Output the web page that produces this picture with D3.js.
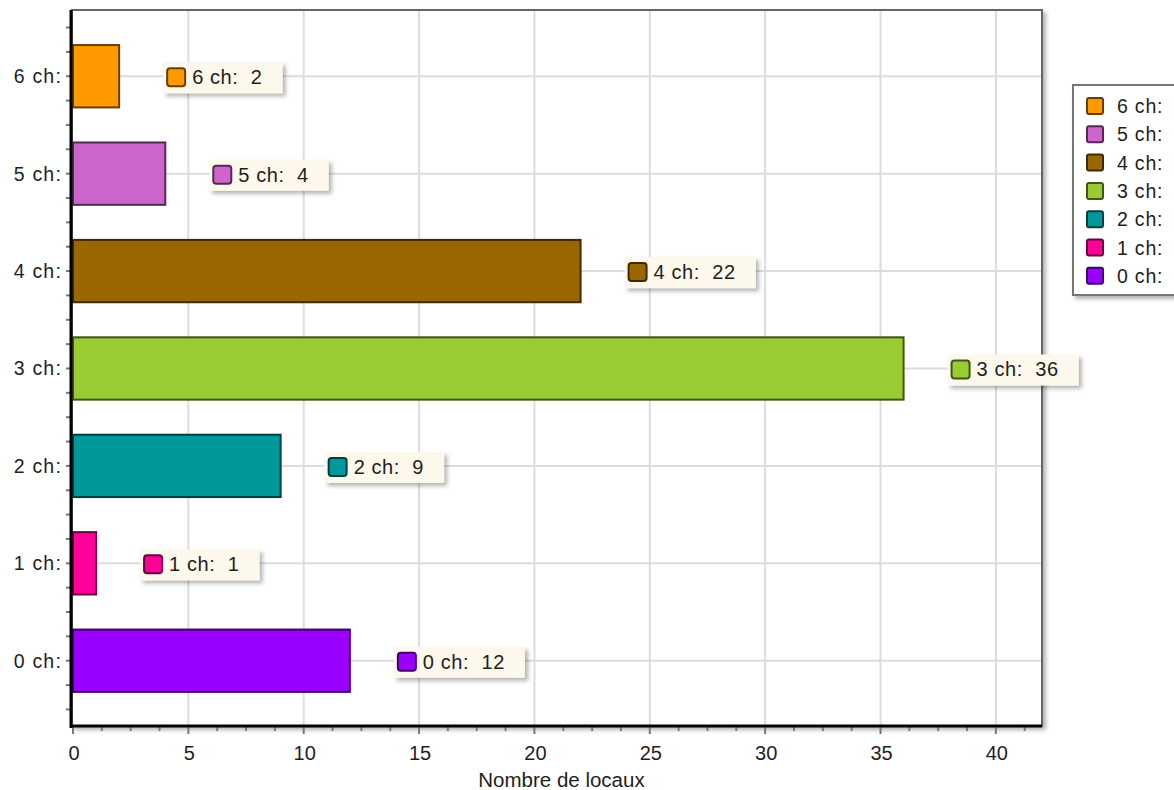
<!DOCTYPE html>
<html>
<head>
<meta charset="utf-8">
<script src="https://cdn.jsdelivr.net/npm/d3@7"></script>
<style>
body{margin:0;background:#fff;}
text{font-family:"Liberation Sans",Arial,sans-serif;fill:#1e1e1e;}
</style>
</head>
<body>
<script>
var w=1174;
var h=790;

// data
var categories=["0 ch:","1 ch:","2 ch:","3 ch:","4 ch:","5 ch:","6 ch:"];
var values=[12,1,9,36,22,4,2];
var colors=["#9900ff","#ff0099","#009999","#99cc33","#996600","#cc66cc","#ff9900"];
var xTicks=[0,5,10,15,20,25,30,35,40];
var xTitle="Nombre de locaux";

// plot box (note: "top" is reserved on window)
var pLeft=73, pRight=1042, pTop=10, pBottom=726;

var svg=d3.select("body").append("svg")
	.attr("width",w)
	.attr("height",h);

var defs=svg.append("defs");
var f=defs.append("filter").attr("id","shadow")
	.attr("x","-10%").attr("y","-20%").attr("width","130%").attr("height","160%");
f.append("feDropShadow").attr("dx",3).attr("dy",3).attr("stdDeviation",2)
	.attr("flood-color","#000").attr("flood-opacity",0.3);

var x=d3.scaleLinear().domain([0,42]).range([pLeft,pRight]);
var y=d3.scaleLinear().domain([-0.67,6.68]).range([pBottom,pTop]);

// frame (top/right) with shadow
svg.append("rect")
	.attr("x",pLeft-1).attr("y",pTop)
	.attr("width",pRight-pLeft+1).attr("height",pBottom-pTop)
	.attr("fill","#fff").attr("stroke","#666").attr("stroke-width",2)
	.attr("filter","url(#shadow)");

// grid
svg.append("g").selectAll("line")
	.data(xTicks.filter(function(d){return d>0;}))
	.enter().append("line")
	.attr("x1",function(d){return x(d);}).attr("x2",function(d){return x(d);})
	.attr("y1",pTop+1).attr("y2",pBottom)
	.attr("stroke","#dcdcdc").attr("stroke-width",2);

svg.append("g").selectAll("line")
	.data(d3.range(categories.length))
	.enter().append("line")
	.attr("x1",pLeft).attr("x2",pRight-1)
	.attr("y1",function(d){return y(d);}).attr("y2",function(d){return y(d);})
	.attr("stroke","#dcdcdc").attr("stroke-width",2);

// bars
var bh=0.32;
svg.append("g").selectAll("rect")
	.data(values)
	.enter().append("rect")
	.attr("x",x(0))
	.attr("y",function(d,i){return y(i+bh);})
	.attr("width",function(d){return x(d)-x(0);})
	.attr("height",function(d,i){return y(i-bh)-y(i+bh);})
	.attr("fill",function(d,i){return colors[i];})
	.attr("stroke",function(d,i){return d3.color(colors[i]).darker(2.5);})
	.attr("stroke-width",2);

// axes
var minorX=d3.range(0,42.01,1.25);
svg.append("g").selectAll("line")
	.data(minorX)
	.enter().append("line")
	.attr("x1",function(d){return x(d);}).attr("x2",function(d){return x(d);})
	.attr("y1",pBottom).attr("y2",function(d){return d%5==0?pBottom+8:pBottom+5;})
	.attr("stroke","#777").attr("stroke-width",2);

var minorY=d3.range(-0.5,6.51,0.25);
svg.append("g").selectAll("line")
	.data(minorY)
	.enter().append("line")
	.attr("y1",function(d){return y(d);}).attr("y2",function(d){return y(d);})
	.attr("x1",pLeft-2).attr("x2",pLeft-7)
	.attr("stroke","#777").attr("stroke-width",2);

svg.append("line").attr("x1",pLeft-2).attr("x2",pLeft-2)
	.attr("y1",pTop).attr("y2",pBottom+2)
	.attr("stroke","#000").attr("stroke-width",3);
svg.append("line").attr("x1",pLeft-3).attr("x2",pRight)
	.attr("y1",pBottom).attr("y2",pBottom)
	.attr("stroke","#000").attr("stroke-width",3);

svg.append("g").selectAll("text")
	.data(xTicks)
	.enter().append("text")
	.attr("x",function(d){return x(d)+1;})
	.attr("y",pBottom+34)
	.attr("text-anchor","middle")
	.attr("font-size",20)
	.text(function(d){return d;});

svg.append("g").selectAll("text")
	.data(categories)
	.enter().append("text")
	.attr("x",pLeft-11)
	.attr("y",function(d,i){return y(i)+7;})
	.attr("text-anchor","end")
	.attr("font-size",19.5)
	.attr("letter-spacing",1.2)
	.text(function(d){return d;});

svg.append("text")
	.attr("x",(pLeft+pRight)/2+4)
	.attr("y",pBottom+61)
	.attr("text-anchor","middle")
	.attr("font-size",20.5)
	.text(xTitle);

// data labels
var lab=svg.append("g").selectAll("g")
	.data(values)
	.enter().append("g")
	.attr("transform",function(d,i){return "translate("+(x(d)+44)+","+(y(i)-14)+")";});

var labBg=lab.append("rect")
	.attr("x",0).attr("y",0).attr("height",31)
	.attr("fill","#fdf8ec")
	.attr("filter","url(#shadow)");

lab.append("rect")
	.attr("x",4).attr("y",6).attr("width",18).attr("height",18)
	.attr("rx",3)
	.attr("fill",function(d,i){return colors[i];})
	.attr("stroke",function(d,i){return d3.color(colors[i]).darker(2.5);})
	.attr("stroke-width",2);

var labText=lab.append("text")
	.attr("x",29).attr("y",22)
	.attr("font-size",20)
	.attr("letter-spacing",0.6)
	.attr("xml:space","preserve")
	.style("white-space","pre")
	.text(function(d,i){return categories[i]+"  "+d;});

labText.each(function(d,i){
	var len=this.getComputedTextLength();
	d3.select(labBg.nodes()[i]).attr("width",29+len+20);
});

// legend
var lg=svg.append("g");
lg.append("rect")
	.attr("x",1073).attr("y",85).attr("width",130).attr("height",210)
	.attr("fill","#fff").attr("stroke","#777").attr("stroke-width",2)
	.attr("filter","url(#shadow)");

var order=d3.range(categories.length).reverse();
var item=lg.selectAll("g")
	.data(order)
	.enter().append("g")
	.attr("transform",function(d,k){return "translate(1087,"+(98+k*28.3)+")";});
item.append("rect")
	.attr("width",16).attr("height",16).attr("rx",2)
	.attr("fill",function(d){return colors[d];})
	.attr("stroke",function(d){return d3.color(colors[d]).darker(2.5);})
	.attr("stroke-width",2);
item.append("text")
	.attr("x",30).attr("y",15)
	.attr("font-size",19.5)
	.attr("letter-spacing",0.8)
	.text(function(d){return categories[d];});
</script>
</body>
</html>
